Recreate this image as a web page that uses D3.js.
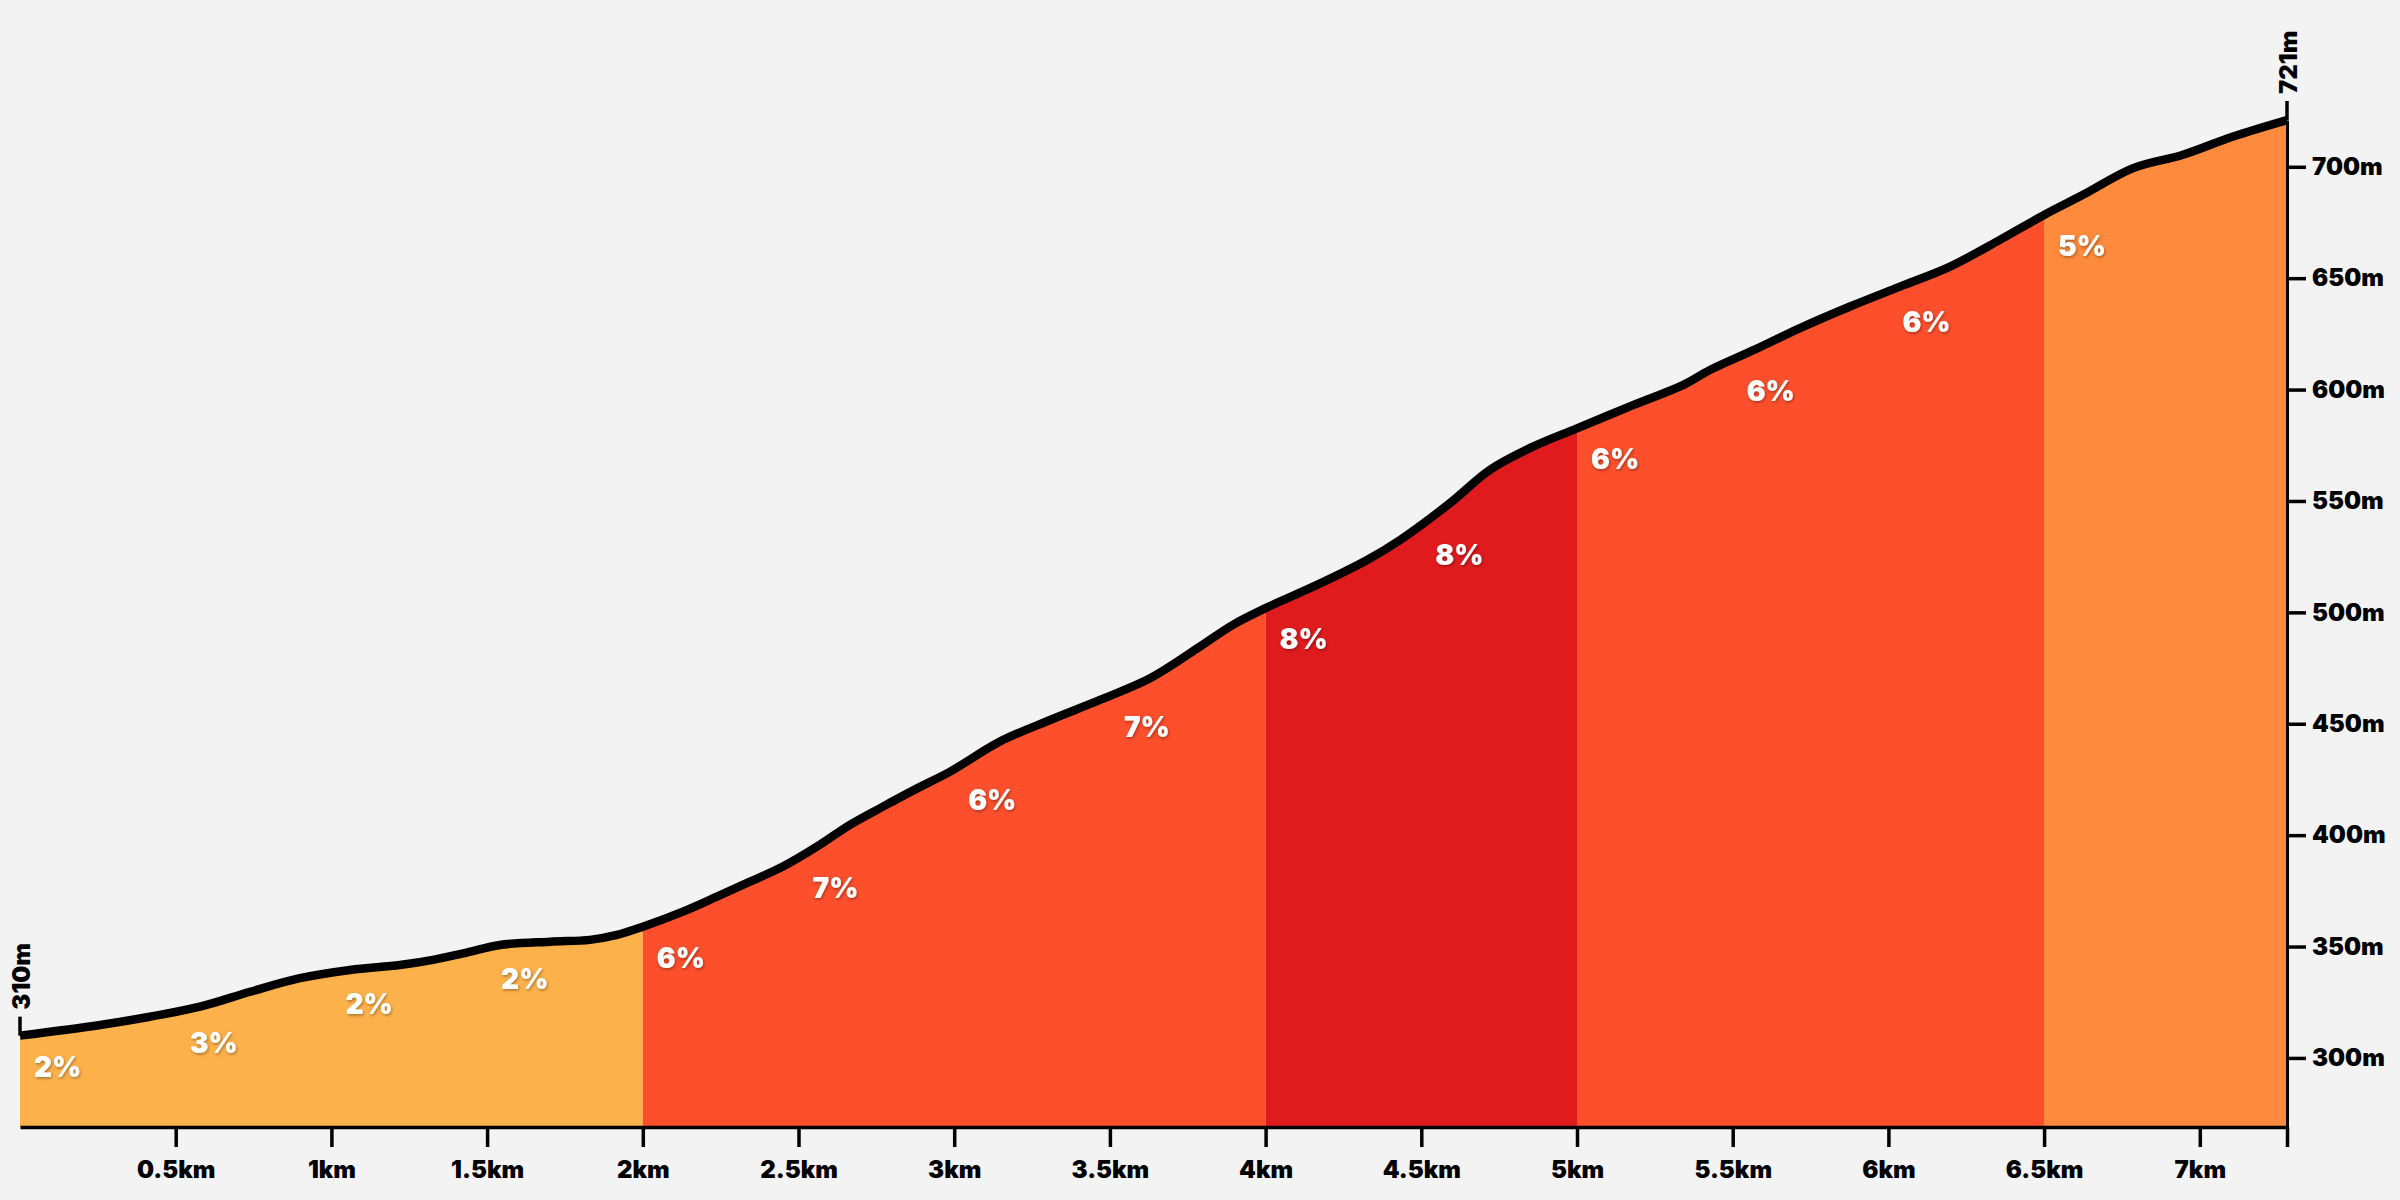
<!DOCTYPE html>
<html>
<head>
<meta charset="utf-8">
<script src="https://cdn.jsdelivr.net/npm/d3@7"></script>
<style>
  html, body { margin: 0; padding: 0; background: #F3F3F3; }
  svg { display: block; background: #F3F3F3; }
  text { font-family: Inter, "Noto Sans", sans-serif; font-weight: 900; }
</style>
</head>
<body>
<svg id="chart" width="2400" height="1200"></svg>
<script>
// ---- data ----
const distances = [0, 0.257, 0.417, 0.578, 0.739, 0.899, 1.06, 1.22, 1.326, 1.435, 1.541, 1.702, 1.83, 1.917, 2.0,
  2.129, 2.238, 2.344, 2.45, 2.559, 2.665, 2.771, 2.881, 2.987, 3.147, 3.308, 3.468, 3.629, 3.789, 3.895, 4.0,
  4.165, 4.326, 4.432, 4.592, 4.721, 4.859, 5.0, 5.18, 5.34, 5.427, 5.572, 5.716, 5.877, 6.037, 6.198, 6.358,
  6.5, 6.625, 6.786, 6.946, 7.107, 7.28];
const elevations = [310, 314.8, 318.5, 323, 329.7, 335.8, 339.5, 341.7, 344, 347.3, 350.7, 352.2, 353, 355.2, 358.9,
  365.7, 372.4, 379.1, 385.9, 394.8, 404.6, 412.8, 421, 428.5, 442, 451.7, 460.7, 470.4, 484.6, 494.4, 501.9,
  512.3, 523.5, 532.5, 549, 564, 574.4, 582.6, 593, 602, 608.8, 618, 627.6, 637.3, 646.2, 655.2, 667.2,
  678.4, 687.4, 699.4, 705.4, 713.6, 721];

const segStarts = [0, 2, 4, 5, 6.5];
const segEnds = [2, 4, 5, 6.5, 7.28];
const segColors = ["#FDB14B", "#FD4F2C", "#E01B1E", "#FD4F2C", "#FE8B3D"];

const gradeKm = [0, 0.5, 1, 1.5, 2, 2.5, 3, 3.5, 4, 4.5, 5, 5.5, 6, 6.5];
const gradeLabels = ["2%", "3%", "2%", "2%", "6%", "7%", "6%", "7%", "8%", "8%", "6%", "6%", "6%", "5%"];

const xTickValues = [0.5, 1, 1.5, 2, 2.5, 3, 3.5, 4, 4.5, 5, 5.5, 6, 6.5, 7, 7.28];
const xTickLabels = ["0.5km", "1km", "1.5km", "2km", "2.5km", "3km", "3.5km", "4km", "4.5km", "5km", "5.5km", "6km", "6.5km", "7km", ""];
const yTickValues = [300, 350, 400, 450, 500, 550, 600, 650, 700];
const yTickLabels = ["300m", "350m", "400m", "450m", "500m", "550m", "600m", "650m", "700m"];

const startLabel = "310m";
const endLabel = "721m";

// ---- chart ----
const svg = d3.select("#chart");
const padLeft = 20, padRight = 2287, padBottom = 1127, padTop = 120;
const x = d3.scaleLinear().domain([0, 7.28]).range([padLeft, padRight]);
const y = d3.scaleLinear().domain([269, 721]).range([padBottom, padTop]);

const pts = distances.map((d, i) => ({ d, e: elevations[i] }));
const elevAt = km => {
  const i = d3.bisectLeft(distances, km);
  if (i <= 0) return elevations[0];
  if (i >= distances.length) return elevations[elevations.length - 1];
  const t = (km - distances[i - 1]) / (distances[i] - distances[i - 1]);
  return elevations[i - 1] + t * (elevations[i] - elevations[i - 1]);
};

const defs = svg.append("defs");
const f = defs.append("filter").attr("id", "shadow").attr("x", "-20%").attr("y", "-20%").attr("width", "140%").attr("height", "140%");
f.append("feDropShadow").attr("dx", 1).attr("dy", 1.5).attr("stdDeviation", 1.5)
  .attr("flood-color", "#000").attr("flood-opacity", 0.35);

segStarts.forEach((s, i) => {
  defs.append("clipPath").attr("id", "seg" + i)
    .append("rect")
    .attr("x", x(s)).attr("y", 0)
    .attr("width", x(segEnds[i]) - x(s)).attr("height", 1200);
});

const curve = d3.curveCatmullRom.alpha(0.5);
const area = d3.area().x(p => x(p.d)).y0(y(269)).y1(p => y(p.e)).curve(curve);
const line = d3.line().x(p => x(p.d)).y(p => y(p.e)).curve(curve);

segStarts.forEach((s, i) => {
  svg.append("path").datum(pts)
    .attr("d", area)
    .attr("fill", segColors[i])
    .attr("clip-path", `url(#seg${i})`);
});

// axes
const xAxis = d3.axisBottom(x).tickValues(xTickValues)
  .tickFormat((d, i) => xTickLabels[i]).tickSize(20).tickSizeOuter(0).tickPadding(14);
const gx = svg.append("g").attr("transform", `translate(0,${padBottom})`).call(xAxis);
gx.select(".domain").attr("stroke", "#000").attr("stroke-width", 3.5);
gx.selectAll(".tick line").attr("stroke", "#000").attr("stroke-width", 3.5);
gx.selectAll(".tick text").attr("fill", "#000").attr("font-size", 24)
  .attr("font-family", "Inter, sans-serif").attr("font-weight", 900);

const yAxis = d3.axisRight(y).tickValues(yTickValues)
  .tickFormat((d, i) => yTickLabels[i]).tickSize(19).tickSizeOuter(0).tickPadding(6);
const gy = svg.append("g").attr("transform", `translate(${padRight},0)`).call(yAxis);
gy.select(".domain").attr("stroke", "#000").attr("stroke-width", 3);
gy.selectAll(".tick line").attr("stroke", "#000").attr("stroke-width", 3.5);
gy.selectAll(".tick text").attr("fill", "#000").attr("font-size", 24)
  .attr("font-family", "Inter, sans-serif").attr("font-weight", 900);

// profile line
svg.append("path").datum(pts)
  .attr("d", line)
  .attr("fill", "none")
  .attr("stroke", "#000")
  .attr("stroke-width", 8.5)
  .attr("stroke-linejoin", "round");

// start / end markers
function marker(km, elev, label) {
  const px = x(km), py = y(elev);
  svg.append("line").attr("x1", px).attr("x2", px).attr("y1", py).attr("y2", py - 19)
    .attr("stroke", "#000").attr("stroke-width", 3.5);
  svg.append("text")
    .attr("transform", `translate(${px + 1},${py - 26}) rotate(-90)`)
    .attr("text-anchor", "start")
    .attr("dominant-baseline", "central")
    .attr("font-size", 24)
    .attr("font-weight", 900)
    .attr("fill", "#000")
    .text(label);
}
marker(0, elevations[0], startLabel);
marker(7.28, elevations[elevations.length - 1], endLabel);

// gradient labels
svg.append("g").selectAll("text").data(gradeKm).join("text")
  .attr("x", d => x(d) + 14)
  .attr("y", d => y(elevAt(d)) + 41)
  .attr("fill", "#fff")
  .attr("font-size", 28)
  .attr("font-weight", 900)
  .attr("filter", "url(#shadow)")
  .text((d, i) => gradeLabels[i]);
</script>
</body>
</html>
